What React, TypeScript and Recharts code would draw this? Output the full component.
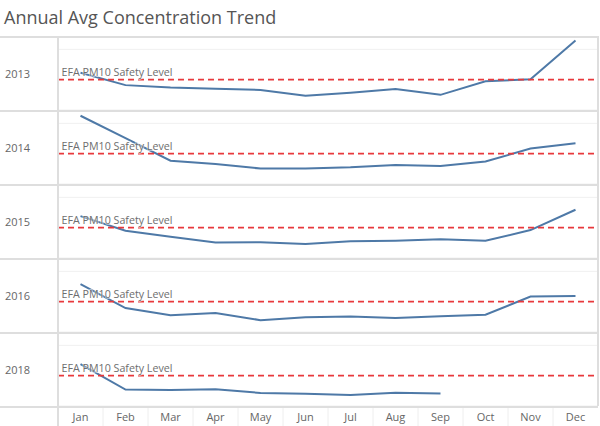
import React from 'react';
import { CartesianGrid, Line, LineChart, ReferenceLine, XAxis, YAxis } from 'recharts';

const months = ['Jan', 'Feb', 'Mar', 'Apr', 'May', 'Jun', 'Jul', 'Aug', 'Sep', 'Oct', 'Nov', 'Dec'];
const years = ['2013', '2014', '2015', '2016', '2018'];

const values2013 = [123, 82, 74, 70, 66, 47, 57, 69, 50, 95, 101, 229];
const values2014 = [225, 151, 77, 66, 51, 51, 55, 63, 59, 74, 117, 134];
const values2015 = [138, 90, 70, 51, 52, 46, 55, 57, 62, 57, 92, 159];
const values2016 = [158, 79, 55, 63, 39, 49, 51, 46, 52, 57, 117, 119];
const values2018 = [138, 54, 53, 55, 43, 40, 36, 44, 41, null, null, null];

const yearValues = [values2013, values2014, values2015, values2016, values2018];
const safetyLevel = 100;
const gridTicks = [200];
const safetyLabel = 'EFA PM10 Safety Level';

const PANEL_TOP = 36;
const PANEL_H = 74;
const AXIS_H = 20;
const BORDER = '#dedede';
const FONT = '"Open Sans", sans-serif';

// month label plus the faint divider on the left side of each band
const MonthTick = (props: any) => {
  const { x, y, payload } = props;
  return (
    <g>
      <line x1={x - 22.5} x2={x - 22.5} y1={y + 2} y2={y + 20} stroke="#eeeeee" strokeWidth={1} />
      <text x={x} y={y + 15} textAnchor="middle" fontSize={11} fill="#666" fontFamily={FONT}>
        {payload.value}
      </text>
    </g>
  );
};

const Panel = ({ values, showAxis }: { values: (number | null)[]; showAxis: boolean }) => {
  const data = months.map((m, i) => ({ month: m, value: values[i] }));
  return (
    <LineChart
      width={540}
      height={showAxis ? PANEL_H + AXIS_H : PANEL_H}
      data={data}
      margin={{ top: 0, right: 0, bottom: 0, left: 0 }}
    >
      <CartesianGrid vertical={false} stroke="#f0f0f0" />
      <XAxis
        dataKey="month"
        hide={!showAxis}
        height={AXIS_H}
        padding={{ left: 22.5, right: 22.5 }}
        axisLine={false}
        tickLine={false}
        tickSize={0}
        tickMargin={0}
        interval={0}
        tick={<MonthTick />}
      />
      <YAxis hide domain={[0, 244]} ticks={gridTicks} />
      <Line
        type="linear"
        dataKey="value"
        stroke="#4e79a7"
        strokeWidth={2}
        dot={false}
        isAnimationActive={false}
      />
      <ReferenceLine
        y={safetyLevel}
        stroke="#e8393c"
        strokeWidth={1.8}
        strokeDasharray="6 4"
        label={{
          value: safetyLabel,
          position: 'insideBottomLeft',
          offset: 3.5,
          fontSize: 10.7,
          fill: '#6e6e6e',
          fontFamily: FONT,
          stroke: '#ffffff',
          strokeWidth: 2,
          strokeOpacity: 0.5,
          style: { paintOrder: 'stroke' },
        }}
      />
    </LineChart>
  );
};

export default function App() {
  return (
    <div
      style={{
        position: 'absolute',
        left: 0,
        top: 0,
        width: 600,
        height: 426,
        background: '#fff',
        fontFamily: FONT,
        overflow: 'hidden',
      }}
    >
      <div style={{ position: 'absolute', left: 4, top: 5, fontSize: 18, color: '#555', whiteSpace: 'nowrap' }}>
        Annual Avg Concentration Trend
      </div>

      {years.map((yr, i) => (
        <React.Fragment key={yr}>
          <div
            style={{
              position: 'absolute',
              left: 5,
              top: PANEL_TOP + PANEL_H * i,
              height: PANEL_H,
              display: 'flex',
              alignItems: 'center',
              fontSize: 11,
              color: '#666',
            }}
          >
            {yr}
          </div>
          <div style={{ position: 'absolute', left: 58, top: PANEL_TOP + PANEL_H * i }}>
            <Panel values={yearValues[i]} showAxis={i === years.length - 1} />
          </div>
        </React.Fragment>
      ))}

      {/* panel borders */}
      {[0, 1, 2, 3, 4, 5].map((k) => (
        <div
          key={k}
          style={{
            position: 'absolute',
            left: 0,
            top: PANEL_TOP + PANEL_H * k,
            width: 598,
            height: 1.5,
            background: BORDER,
          }}
        />
      ))}
      <div style={{ position: 'absolute', left: 57, top: PANEL_TOP, width: 1.8, height: 426 - PANEL_TOP, background: BORDER }} />
      <div style={{ position: 'absolute', left: 597, top: PANEL_TOP, width: 1.5, height: PANEL_H * 5, background: BORDER }} />
    </div>
  );
}
